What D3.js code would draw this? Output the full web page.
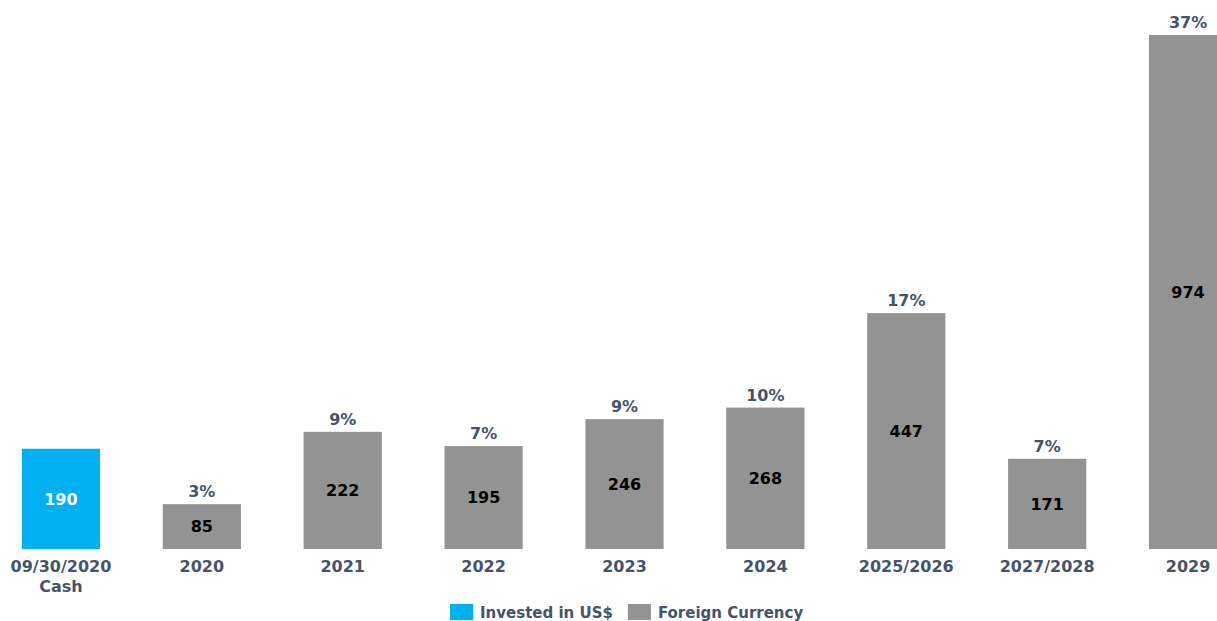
<!DOCTYPE html>
<html>
<head>
<meta charset="utf-8">
<script src="https://cdn.jsdelivr.net/npm/d3@7"></script>
<style>
  body { margin: 0; background: #fff; }
  svg text { font-family: "DejaVu Sans", Verdana, sans-serif; font-weight: bold; }
</style>
</head>
<body>
<div class="chart"></div>
<script>
// data
var categories = ["09/30/2020\nCash", "2020", "2021", "2022", "2023", "2024", "2025/2026", "2027/2028", "2029"];
var values = [190, 85, 222, 195, 246, 268, 447, 171, 974];
var percents = ["", "3%", "9%", "7%", "9%", "10%", "17%", "7%", "37%"];
var seriesOf = ["usd", "fx", "fx", "fx", "fx", "fx", "fx", "fx", "fx"];
var legendLabels = ["Invested in US$", "Foreign Currency"];

var colors = { usd: "#00b0f0", fx: "#939393" };
var labelColor = "#44546a";

var width = 1217, height = 621;
var margin = { top: 35, right: 0, bottom: 72, left: 0 };

var svg = d3.select(".chart").append("svg")
    .attr("width", width).attr("height", height);

// band scale laid out so that centres land at 61 ... 1188
var x = d3.scaleBand()
    .domain(categories)
    .range([-9.5, 1258.5])
    .paddingInner(0.445)
    .paddingOuter(0.2225);

var y = d3.scaleLinear()
    .domain([0, 974])
    .range([549, margin.top]);

var bars = svg.selectAll(".bar").data(categories).enter().append("g").attr("class", "bar");

bars.append("rect")
    .attr("x", function(d){ return x(d); })
    .attr("width", x.bandwidth())
    .attr("y", function(d,i){ return y(values[i]); })
    .attr("height", function(d,i){ return y(0) - y(values[i]); })
    .style("fill", function(d,i){ return colors[seriesOf[i]]; });

// value labels inside bars
bars.append("text")
    .attr("x", function(d){ return x(d) + x.bandwidth()/2; })
    .attr("y", function(d,i){ return (y(values[i]) + y(0))/2; })
    .attr("dy", "0.36em")
    .attr("text-anchor", "middle")
    .style("font-size", "16px")
    .style("fill", function(d,i){ return seriesOf[i] == "usd" ? "#fff" : "#000"; })
    .text(function(d,i){ return values[i]; });

// percent labels above bars
bars.append("text")
    .attr("x", function(d){ return x(d) + x.bandwidth()/2; })
    .attr("y", function(d,i){ return y(values[i]) - 7; })
    .attr("text-anchor", "middle")
    .style("font-size", "16px")
    .style("fill", labelColor)
    .text(function(d,i){ return percents[i]; });

// category axis
var xAxis = svg.append("g")
    .attr("transform", "translate(0," + y(0) + ")")
    .call(d3.axisBottom(x).tickSize(0).tickFormat(""));
xAxis.select(".domain").remove();

xAxis.selectAll(".tick").append("text")
    .attr("text-anchor", "middle")
    .style("font-size", "16px")
    .style("fill", labelColor)
    .selectAll("tspan")
    .data(function(d){ return d.split("\n"); })
    .enter().append("tspan")
    .attr("x", 0)
    .attr("y", function(d,i){ return 23 + i*20; })
    .text(function(d){ return d; });

// legend
var legend = svg.append("g").attr("transform", "translate(450,604)");
var lx = 0;
legendLabels.forEach(function(lab, i){
    var g = legend.append("g").attr("transform", "translate(" + lx + ",0)");
    g.append("rect").attr("width", 23).attr("height", 16)
        .style("fill", i == 0 ? colors.usd : colors.fx);
    var t = g.append("text").attr("x", 30).attr("y", 14)
        .style("font-size", "15px").style("fill", labelColor).text(lab);
    lx += 30 + t.node().getComputedTextLength() + 15;
});
</script>
</body>
</html>
